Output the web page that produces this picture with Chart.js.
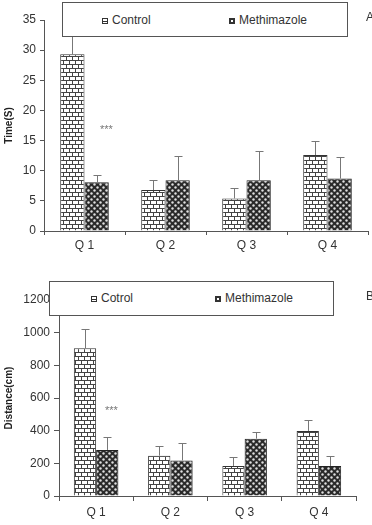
<!DOCTYPE html>
<html>
<head>
<meta charset="utf-8">
<script src="https://cdn.jsdelivr.net/npm/chart.js@4.4.1/dist/chart.umd.min.js"></script>
<style>
    body { margin: 0; background: #fff; }
    #wrap { position: relative; width: 372px; height: 525px; overflow: hidden; font-family: "Liberation Sans", Arial, sans-serif; color: #333; }
    canvas { position: absolute; left: 0; }
    .legend { position: absolute; background: #fff; border: 1px solid #555; box-sizing: border-box; z-index: 2; }
    .item { position: absolute; font-size: 12px; line-height: 14px; white-space: nowrap; }
    .sw { display: inline-block; width: 6px; height: 6px; border: 1px solid #333; margin-right: 4px; vertical-align: 0px; box-sizing: border-box; }
    .sw.ctrl { background: repeating-linear-gradient(#fff 0 2px, #333 2px 3px); }
    .sw.meth { background: #333; position: relative; }
    .sw.meth::after { content: ''; position: absolute; left: 1px; top: 1px; width: 2px; height: 2px; background: #fff; }
    .note { position: absolute; font-size: 12px; color: #333; z-index: 2; }
    .stars { position: absolute; font-size: 11px; color: #777; z-index: 2; }
</style>
</head>
<body>
<div id="wrap">
    <canvas id="chartA" width="372" height="260" style="top:0"></canvas>
    <canvas id="chartB" width="372" height="265" style="top:260px"></canvas>

    <div class="legend" style="left:62px; top:2px; width:286px; height:35px;">
        <div class="item" style="left:39px; top:10px;"><span class="sw ctrl"></span>Control</div>
        <div class="item" style="left:166px; top:10px;"><span class="sw meth"></span>Methimazole</div>
    </div>
    <div class="note" style="left:366px; top:10px;">A</div>
    <div class="stars" style="left:100px; top:123px;">***</div>

    <div class="legend" style="left:49px; top:281px; width:285px; height:35px;">
        <div class="item" style="left:41px; top:9px;"><span class="sw ctrl"></span>Cotrol</div>
        <div class="item" style="left:165px; top:9px;"><span class="sw meth"></span>Methimazole</div>
    </div>
    <div class="note" style="left:366px; top:289px;">B</div>
    <div class="stars" style="left:105px; top:404px;">***</div>
</div>

<script>
// Data
const quarters = ['Q 1', 'Q 2', 'Q 3', 'Q 4'];

const timeControl = [29.3, 6.8, 5.4, 12.6];
const timeControlSd = [4.7, 1.6, 1.7, 2.3];
const timeMethimazole = [8.1, 8.4, 8.4, 8.7];
const timeMethimazoleSd = [1.2, 4.1, 4.9, 3.5];

const distControl = [905, 247, 184, 398];
const distControlSd = [120, 59, 57, 69];
const distMethimazole = [282, 218, 351, 184];
const distMethimazoleSd = [81, 104, 41, 63];

const FONT = '"Liberation Sans", Arial, sans-serif';

/**
 * Brick pattern for control bars
 */
function brickPattern() {
    const c = document.createElement('canvas');
    c.width = 6; c.height = 8;
    const g = c.getContext('2d');
    g.fillStyle = '#fff';
    g.fillRect(0, 0, 6, 8);
    g.fillStyle = '#444';
    g.fillRect(0, 0, 6, 1);
    g.fillRect(0, 4, 6, 1);
    g.fillRect(0, 0, 1, 4);
    g.fillRect(3, 4, 1, 4);
    return g.createPattern(c, 'repeat');
}

/**
 * Dark dotted pattern for methimazole bars
 */
function dotPattern() {
    const c = document.createElement('canvas');
    c.width = 6; c.height = 6;
    const g = c.getContext('2d');
    g.fillStyle = '#2a2a2a';
    g.fillRect(0, 0, 6, 6);
    g.fillStyle = '#e0e0e0';
    g.beginPath(); g.arc(1.5, 1.5, 1.2, 0, Math.PI * 2); g.fill();
    g.beginPath(); g.arc(4.5, 4.5, 1.2, 0, Math.PI * 2); g.fill();
    return g.createPattern(c, 'repeat');
}

// Upward-only error bars, drawn from the sd arrays via the y scale
const errorBars = {
    id: 'errorBars',
    afterDatasetsDraw(chart) {
        const ctx = chart.ctx;
        const yScale = chart.scales.y;
        chart.data.datasets.forEach((ds, i) => {
            const meta = chart.getDatasetMeta(i);
            meta.data.forEach((bar, j) => {
                const top = Math.round(yScale.getPixelForValue(ds.data[j] + ds.sd[j])) + 0.5;
                const x = Math.round(bar.x) + 0.5;
                ctx.save();
                ctx.strokeStyle = '#777';
                ctx.lineWidth = 1;
                ctx.beginPath();
                ctx.moveTo(x, bar.y);
                ctx.lineTo(x, top);
                ctx.moveTo(x - 4, top);
                ctx.lineTo(x + 4, top);
                ctx.stroke();
                ctx.restore();
            });
        });
    }
};

function makeChart(id, cfg) {
    const ctx = document.getElementById(id).getContext('2d');
    return new Chart(ctx, {
        type: 'bar',
        data: {
            labels: quarters,
            datasets: [{
                label: 'Control',
                data: cfg.control,
                sd: cfg.controlSd,
                backgroundColor: brickPattern(),
                borderColor: '#333',
                borderWidth: 1,
                categoryPercentage: 0.6,
                barPercentage: 1
            }, {
                label: 'Methimazole',
                data: cfg.meth,
                sd: cfg.methSd,
                backgroundColor: dotPattern(),
                borderColor: '#222',
                borderWidth: 1,
                categoryPercentage: 0.6,
                barPercentage: 1
            }]
        },
        options: {
            responsive: false,
            animation: false,
            devicePixelRatio: 1,
            layout: { padding: { top: cfg.padTop, right: cfg.padRight, left: 0, bottom: 0 } },
            scales: {
                x: {
                    afterFit: s => { s.height = 29; },
                    border: { color: '#555', width: 1 },
                    grid: { drawOnChartArea: false, tickLength: cfg.tickLen, color: '#555' },
                    ticks: { color: '#333', padding: cfg.xPad, font: { family: FONT, size: 12 } }
                },
                y: {
                    min: 0,
                    max: cfg.max,
                    afterFit: s => { s.width = cfg.yWidth; },
                    border: { color: '#555', width: 1 },
                    grid: { drawOnChartArea: false, tickLength: cfg.tickLen, color: '#555' },
                    ticks: {
                        stepSize: cfg.step,
                        color: '#333',
                        padding: 4,
                        font: { family: FONT, size: 12 },
                        callback: v => String(v)
                    },
                    title: {
                        display: true,
                        text: cfg.title,
                        color: '#222',
                        padding: { top: 3, bottom: 0 },
                        font: { family: FONT, size: 10, weight: 'bold' }
                    }
                }
            },
            plugins: {
                legend: { display: false },
                tooltip: { enabled: false }
            }
        },
        plugins: [errorBars]
    });
}

makeChart('chartA', {
    control: timeControl, controlSd: timeControlSd,
    meth: timeMethimazole, methSd: timeMethimazoleSd,
    max: 35, step: 5, title: 'Time(S)',
    padTop: 20, padRight: 4, yWidth: 44,
    tickLen: 4, xPad: 3
});

makeChart('chartB', {
    control: distControl, controlSd: distControlSd,
    meth: distMethimazole, methSd: distMethimazoleSd,
    max: 1200, step: 200, title: 'Distance(cm)',
    padTop: 40, padRight: 16, yWidth: 59,
    tickLen: 5, xPad: 4
});
</script>
</body>
</html>
